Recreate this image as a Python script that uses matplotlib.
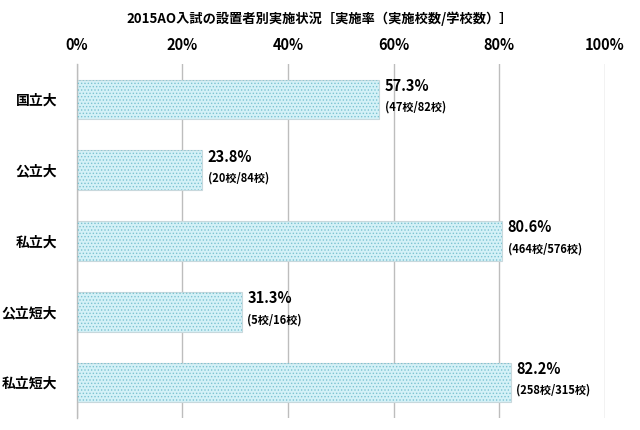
import matplotlib.pyplot as plt

plt.rcParams['font.family'] = ['Noto Sans CJK JP', 'DejaVu Sans']
plt.rcParams['hatch.linewidth'] = 0.6

# data
categories = ['国立大', '公立大', '私立大', '公立短大', '私立短大']
rates = [57.3, 23.8, 80.6, 31.3, 82.2]
counts = ['(47校/82校)', '(20校/84校)', '(464校/576校)', '(5校/16校)', '(258校/315校)']
xticks = [0, 20, 40, 60, 80, 100]

fig = plt.figure(figsize=(6.4, 4.3), dpi=100)
ax = fig.add_axes([0.120, 0.028, 0.825, 0.823])

ypos = list(range(len(categories)))
# base fill
ax.barh(ypos, rates, height=0.56, color='#d4f1f7', edgecolor='#c8d8dc', linewidth=0.8, zorder=2)
# dotted pattern
ax.barh(ypos, rates, height=0.56, color='none', edgecolor='#7cc3d1', hatch='.....', linewidth=0, zorder=3)

for y, r, c in zip(ypos, rates, counts):
    ax.text(r + 1.0, y - 0.08, f'{r:.1f}%', fontsize=10.5, fontweight='bold', va='bottom', ha='left')
    ax.text(r + 1.0, y + 0.02, c, fontsize=8, fontweight='bold', va='top', ha='left')

ax.set_xlim(0, 100)
ax.set_ylim(len(categories) - 0.5, -0.5)
ax.set_xticks(xticks)
ax.set_xticklabels([f'{t}%' for t in xticks], fontsize=10.5, fontweight='bold')
ax.xaxis.tick_top()
ax.tick_params(axis='x', length=0, pad=8)
ax.set_yticks(ypos)
ax.set_yticklabels(categories, fontsize=10, fontweight='bold')
ax.tick_params(axis='y', length=0, pad=14)
ax.grid(axis='x', color='#bdbdbd', linewidth=1.0, zorder=0)
ax.set_axisbelow(True)
for s in ['top', 'right', 'bottom']:
    ax.spines[s].set_visible(False)
ax.spines['left'].set_color('#bdbdbd')
ax.spines['left'].set_linewidth(1.0)

fig.text(0.5, 0.957, '2015AO入試の設置者別実施状況［実施率（実施校数/学校数）］',
         ha='center', va='center', fontsize=9.5, fontweight='bold')

fig.savefig('out.png', dpi=100)
